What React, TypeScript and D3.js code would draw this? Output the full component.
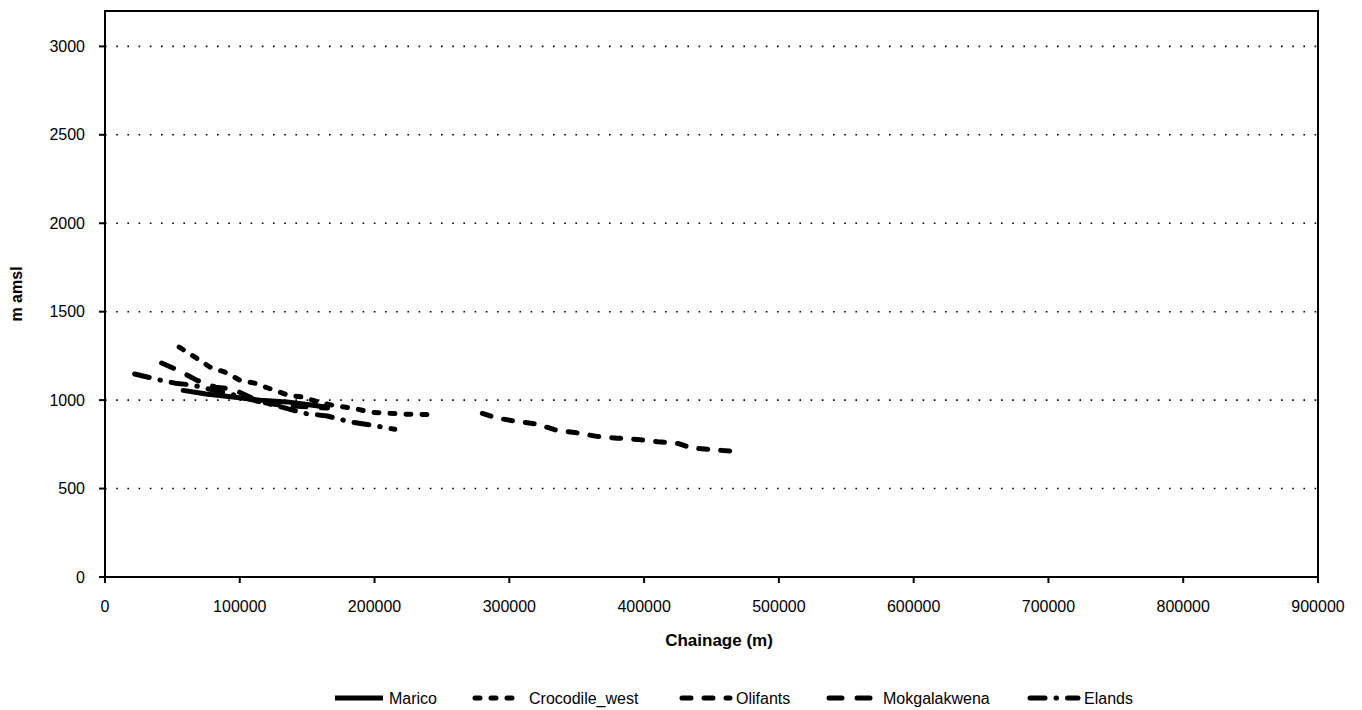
import React from 'react';
import * as d3 from 'd3';

// chainage (m), elevation (m amsl)
const marico: [number, number][] = [
  [58000, 1055], [75000, 1035], [95000, 1018], [115000, 1000], [135000, 990], [150000, 975], [165000, 960],
];
const crocodileWest: [number, number][] = [
  [55000, 1300], [68000, 1237], [78000, 1186], [89000, 1158], [100000, 1113], [111000, 1096], [124000, 1060],
  [136000, 1028], [147000, 1017], [160000, 985], [172000, 966], [184000, 955], [197000, 932], [209000, 926],
  [225000, 920], [240000, 918],
];
const olifants: [number, number][] = [
  [280000, 925], [290000, 900], [305000, 880], [320000, 865], [335000, 830], [350000, 815], [365000, 795],
  [380000, 785], [395000, 778], [410000, 765], [425000, 755], [435000, 730], [450000, 720], [470000, 708],
];
const mokgalakwena: [number, number][] = [
  [42000, 1210], [54000, 1170], [68000, 1113], [82000, 1073], [95000, 1062], [115000, 990], [130000, 972],
  [150000, 962], [165000, 955],
];
const elands: [number, number][] = [
  [22000, 1148], [41000, 1113], [52000, 1096], [65000, 1085], [90000, 1040], [110000, 1000], [134000, 955],
  [148000, 925], [165000, 910], [183000, 875], [198000, 858], [215000, 835],
];

const seriesNames = ['Marico', 'Crocodile_west', 'Olifants', 'Mokgalakwena', 'Elands'];
const seriesData = [marico, crocodileWest, olifants, mokgalakwena, elands];
const dashes = ['', '5,11', '9,13', '13,15', '15,11,0.5,11'];

const xTickValues = d3.range(0, 900001, 100000);
const yTickValues = d3.range(0, 3001, 500);

const WIDTH = 1362;
const HEIGHT = 710;
const plot = { left: 105, right: 1318, top: 11, bottom: 577 };
const FONT = '"Liberation Sans", Arial, sans-serif';

export default function App() {
  const x = d3.scaleLinear().domain([0, 900000]).range([plot.left, plot.right]);
  const y = d3.scaleLinear().domain([0, 3200]).range([plot.bottom, plot.top]);

  const line = d3.line<[number, number]>()
    .x(d => x(d[0]))
    .y(d => y(d[1]));

  // legend layout
  const legendY = 698;
  const symLen = 50;
  const legendX = [333, 473, 680, 827, 1028];

  return (
    <div style={{ position: 'absolute', left: 0, top: 0 }}>
      <svg width={WIDTH} height={HEIGHT} style={{ display: 'block', background: '#fff' }} fontFamily={FONT}>
        {/* gridlines */}
        {yTickValues.filter(v => v > 0).map(v => (
          <line key={'g' + v} x1={plot.left} x2={plot.right} y1={y(v)} y2={y(v)}
            stroke="#000" strokeWidth={1.6} strokeDasharray="1.6,9.6" />
        ))}

        {/* series */}
        {seriesData.map((d, i) => (
          <path key={seriesNames[i]} d={line(d) || ''} fill="none" stroke="#000" strokeWidth={5}
            strokeLinecap="round" strokeLinejoin="round"
            strokeDasharray={dashes[i] || undefined} />
        ))}

        {/* frame */}
        <rect x={plot.left} y={plot.top} width={plot.right - plot.left} height={plot.bottom - plot.top}
          fill="none" stroke="#000" strokeWidth={2} />

        {/* y axis ticks */}
        {yTickValues.map(v => (
          <g key={'y' + v}>
            <line x1={plot.left - 6} x2={plot.left} y1={y(v)} y2={y(v)} stroke="#000" strokeWidth={2} />
            <text x={85} y={y(v)} dy="0.35em" textAnchor="end" fontSize={16}>{v}</text>
          </g>
        ))}

        {/* x axis ticks */}
        {xTickValues.map(v => (
          <g key={'x' + v}>
            <line x1={x(v)} x2={x(v)} y1={plot.bottom} y2={plot.bottom + 6} stroke="#000" strokeWidth={2} />
            <text x={x(v)} y={612} textAnchor="middle" fontSize={16}>{v}</text>
          </g>
        ))}

        {/* axis titles */}
        <text x={719} y={646} textAnchor="middle" fontSize={17} fontWeight="bold">Chainage (m)</text>
        <text transform={`translate(22,${(plot.top + plot.bottom) / 2}) rotate(-90)`} textAnchor="middle"
          fontSize={16} fontWeight="bold">m amsl</text>

        {/* legend */}
        {seriesNames.map((name, i) => (
          <g key={'l' + name}>
            <line x1={legendX[i] + 2} x2={legendX[i] + symLen} y1={legendY} y2={legendY} stroke="#000"
              strokeWidth={5} strokeLinecap={i === 0 ? 'butt' : 'round'} strokeDasharray={dashes[i] || undefined} />
            <text x={legendX[i] + symLen + 6} y={legendY} dy="0.35em" fontSize={16}>{name}</text>
          </g>
        ))}
      </svg>
    </div>
  );
}
